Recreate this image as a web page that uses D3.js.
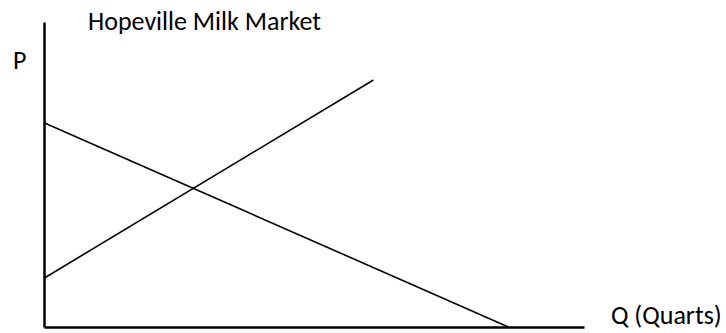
<!DOCTYPE html>
<html>
<head>
<meta charset="utf-8">
<script src="https://cdn.jsdelivr.net/npm/d3@7"></script>
<style>
  html, body { margin: 0; padding: 0; background: #fff; }
  text { font-family: Carlito, Lato, "Open Sans", sans-serif; fill: #000; }
</style>
</head>
<body>
<svg id="chart" width="726" height="333"></svg>
<script>
// Data
const title = "Hopeville Milk Market";
const xLabel = "Q (Quarts)";
const yLabel = "P";
const demandQ = [0, 86];
const demandP = [67, 0];
const supplyQ = [0, 61];
const supplyP = [16, 81];
const xDomain = [0, 100];
const yDomain = [0, 100];

const svg = d3.select("#chart");
const x = d3.scaleLinear().domain(xDomain).range([44, 584]);
const y = d3.scaleLinear().domain(yDomain).range([327, 22]);

// axes (plain lines, no ticks)
svg.append("g").attr("transform", `translate(0,${y(0)})`)
  .call(d3.axisBottom(x).tickValues([]).tickSizeOuter(0));
svg.append("g").attr("transform", `translate(${x(0)},0)`)
  .call(d3.axisLeft(y).tickValues([]).tickSizeOuter(0));
svg.selectAll(".domain").attr("stroke", "#000").attr("stroke-width", 2.5);

const line = d3.line().x(d => x(d[0])).y(d => y(d[1]));
const demand = demandQ.map((q, i) => [q, demandP[i]]);
const supply = supplyQ.map((q, i) => [q, supplyP[i]]);

svg.append("path").datum(demand).attr("d", line)
  .attr("fill", "none").attr("stroke", "#000").attr("stroke-width", 1.6);
svg.append("path").datum(supply).attr("d", line)
  .attr("fill", "none").attr("stroke", "#000").attr("stroke-width", 1.6);

svg.append("text").attr("x", 88).attr("y", 30).style("font-size", "26px").text(title);
svg.append("text").attr("x", 13).attr("y", 69).style("font-size", "26px").text(yLabel);
svg.append("text").attr("x", 611).attr("y", 324).style("font-size", "26px").text(xLabel);
</script>
</body>
</html>
